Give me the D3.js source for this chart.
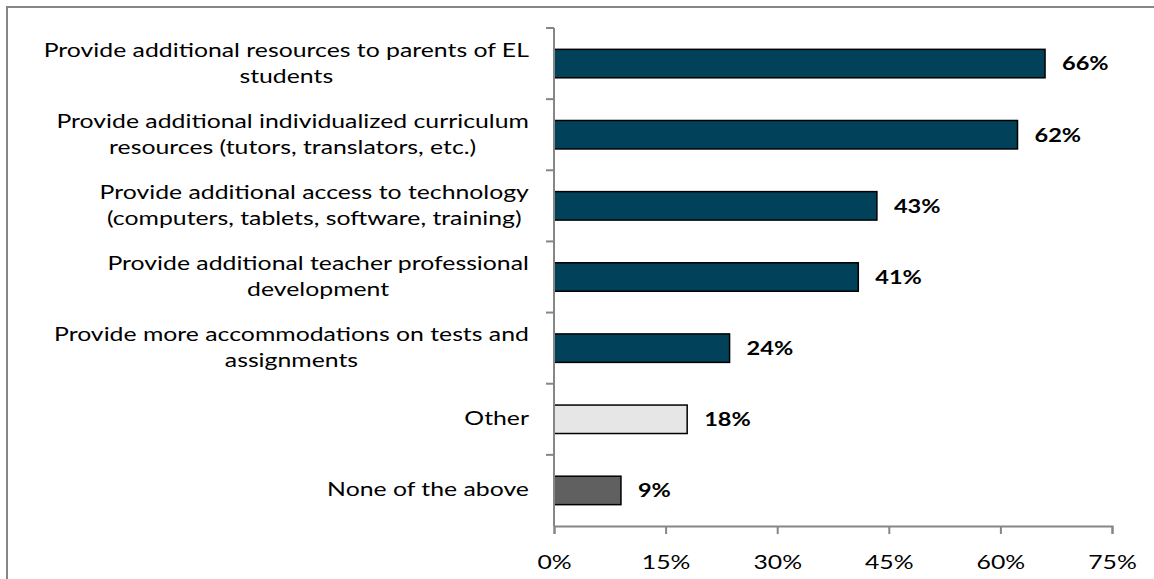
<!DOCTYPE html>
<html>
<head>
<meta charset="utf-8">
<script src="https://cdn.jsdelivr.net/npm/d3@7/dist/d3.min.js"></script>
<style>
  html, body { margin: 0; padding: 0; background: #fff; }
  svg { display: block; }
  text { font-family: Lato, "Open Sans", sans-serif; fill: #000; }
</style>
</head>
<body>
<svg id="chart" width="1154" height="579"></svg>
<script>
// ---- data ----
const categories = [
  ["Provide additional resources to parents of EL", "students"],
  ["Provide additional individualized curriculum", "resources (tutors, translators, etc.)"],
  ["Provide additional access to technology", "(computers, tablets, software, training)"],
  ["Provide additional teacher professional", "development"],
  ["Provide more accommodations on tests and", "assignments"],
  ["Other"],
  ["None of the above"]
];
const values = [66.0, 62.3, 43.4, 40.9, 23.6, 17.9, 9.0];
const valueLabels = ["66%", "62%", "43%", "41%", "24%", "18%", "9%"];
const barColors = ["#02415A", "#02415A", "#02415A", "#02415A", "#02415A", "#E6E6E6", "#606060"];
const xTicks = [0, 15, 30, 45, 60, 75];
const xTickLabels = ["0%", "15%", "30%", "45%", "60%", "75%"];

// ---- layout ----
const svg = d3.select("#chart");
const mLeft = 554, mRight = 1112, mTop = 28, mBottom = 526;
const SX = 1.24;      // horizontal stretch of the original text
const FS = 20;        // font size

svg.append("rect")
  .attr("x", 7).attr("y", 7).attr("width", 1160).attr("height", 600)
  .attr("fill", "none").attr("stroke", "#868686").attr("stroke-width", 2);

const x = d3.scaleLinear().domain([0, 75]).range([mLeft, mRight]);
const y = d3.scaleBand().domain(d3.range(categories.length))
  .range([mTop, mBottom]).paddingInner(0.6).paddingOuter(0.3);

// bars
svg.append("g").selectAll("rect").data(values).join("rect")
  .attr("x", x(0))
  .attr("y", (d, i) => y(i))
  .attr("width", d => x(d) - x(0))
  .attr("height", y.bandwidth())
  .attr("fill", (d, i) => barColors[i])
  .attr("stroke", "#000").attr("stroke-width", 1.5);

// x axis
const xAxis = d3.axisBottom(x).tickValues(xTicks)
  .tickFormat((d, i) => xTickLabels[i]).tickSize(8).tickPadding(21);
const gx = svg.append("g").attr("transform", `translate(0,${mBottom})`).call(xAxis);
gx.select(".domain").attr("stroke", "#868686").attr("stroke-width", 2);
gx.selectAll(".tick line").attr("stroke", "#868686").attr("stroke-width", 2);
gx.selectAll(".tick text")
  .style("font-size", FS + "px").style("font-family", "Lato, sans-serif")
  .attr("fill", "#000").attr("transform", `scale(${SX},1)`);

// y axis line + boundary ticks
const step = y.step();
const gy = svg.append("g");
gy.append("line").attr("x1", mLeft).attr("x2", mLeft).attr("y1", mTop).attr("y2", mBottom)
  .attr("stroke", "#868686").attr("stroke-width", 2);
gy.selectAll("line.tk").data(d3.range(categories.length)).join("line")
  .attr("class", "tk")
  .attr("x1", mLeft - 8).attr("x2", mLeft)
  .attr("y1", (d, i) => mTop + i * step).attr("y2", (d, i) => mTop + i * step)
  .attr("stroke", "#868686").attr("stroke-width", 2);

// category labels (centered lines in a right-aligned block)
const lineH = 26;
const labelRight = 529;
categories.forEach((lines, i) => {
  const cy = y(i) + y.bandwidth() / 2 - 1;
  const g = svg.append("g");
  const texts = lines.map((t, j) => g.append("text")
    .text(t).style("font-size", FS + "px")
    .attr("text-anchor", "middle")
    .attr("y", cy + (j - (lines.length - 1) / 2) * lineH)
    .attr("dy", "0.35em"));
  const maxW = d3.max(texts, t => t.node().getComputedTextLength()) * SX;
  const cx = labelRight - maxW / 2;
  texts.forEach(t => t.attr("x", cx / SX).attr("transform", `scale(${SX},1)`));
});

// value labels
svg.append("g").selectAll("text").data(values).join("text")
  .attr("x", d => (x(d) + 17) / SX)
  .attr("transform", `scale(${SX},1)`)
  .attr("y", (d, i) => y(i) + y.bandwidth() / 2)
  .attr("dy", "0.36em")
  .style("font-size", "19px").style("font-weight", "bold")
  .text((d, i) => valueLabels[i]);
</script>
</body>
</html>
